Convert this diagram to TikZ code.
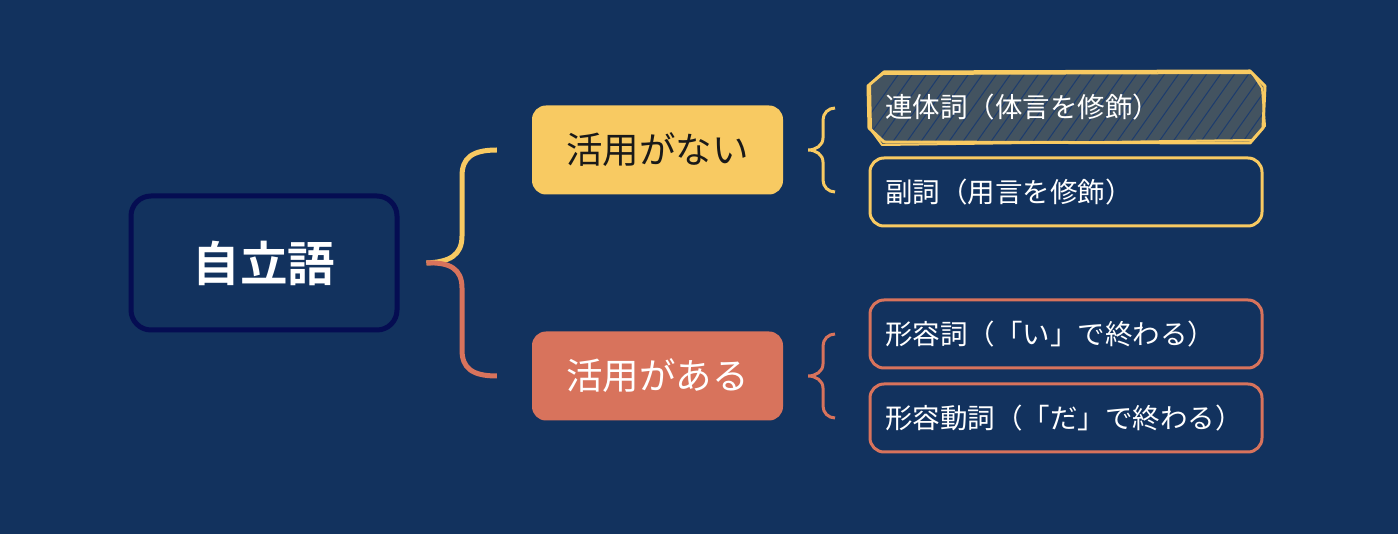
\documentclass[tikz,border=0pt]{standalone}
\usepackage{fontspec}
\newfontfamily\jp{Noto Sans CJK JP}
\newfontfamily\jpbold{Noto Sans CJK JP Bold}
\definecolor{bg}{HTML}{12325E}
\definecolor{rootline}{HTML}{050D52}
\definecolor{warm}{HTML}{F8CA62}
\definecolor{rust}{HTML}{D8735C}
\definecolor{slate}{HTML}{435360}
\definecolor{hatch}{HTML}{1D3C6E}
\tikzset{
  rootbox/.style={draw=rootline, line width=5pt, rounded corners=20pt, minimum width=266pt, minimum height=134pt, text=white, font=\jpbold\fontsize{47.5}{52}\selectfont},
  groupbox/.style={rounded corners=14pt, minimum width=251pt, minimum height=89pt, font=\jp\fontsize{36.5}{40}\selectfont},
  leafbox/.style={line width=3pt, rounded corners=14pt, minimum width=392pt, minimum height=68pt, text=white, text width=362pt, align=left, font=\jp\fontsize{27.5}{30}\selectfont},
  bigbrace/.style={line width=5pt},
  smallbrace/.style={line width=3pt},
}
\begin{document}
\begin{tikzpicture}[x=1pt,y=-1pt]
\fill[bg] (0,0) rectangle (1398,534);
\useasboundingbox (0,0) rectangle (1398,534);

% root
\node[rootbox] (root) at (264,263) {自立語};

% groups
\node[groupbox, fill=warm, text=black!90] (ga) at (657.5,150) {活用がない};
\node[groupbox, fill=rust, text=white] (gb) at (657.5,376) {活用がある};

% big brace from root to both groups
\coordinate (bm) at ([xshift=27pt]root.east);
\coordinate (ta) at ([xshift=-35pt]ga.west);
\coordinate (tb) at ([xshift=-35pt]gb.west);
\draw[bigbrace, warm] (bm) .. controls (450,262) and (462,255) .. (462,236)
  -- (462,176) .. controls (462,158) and (472,150) .. (ta);
\draw[bigbrace, rust] (bm) .. controls (450,262) and (462,269) .. (462,288)
  -- (462,350) .. controls (462,368) and (472,376) .. (tb);

% leaves
\begin{scope}
  \path[clip] (884,72) -- (1250,71) -- (1265,86) -- (1263,128) -- (1250,143) -- (884,142) -- (869,128) -- (868,86) -- cycle;
  \fill[slate] (860,60) rectangle (1280,150);
  \foreach \i in {0,...,30}
    \draw[hatch, line width=1pt] (845+\i*14,150) -- ++(60,-85);
\end{scope}
\draw[warm, line width=3pt, line join=round] (884,72) -- (1250,71) -- (1265,86) -- (1263,128) -- (1250,143) -- (884,142) -- (869,128) -- (868,86) -- cycle;
\draw[warm, line width=2pt, line join=round] (883,74) -- (1252,73) -- (1262,88) -- (1265,126) -- (1252,140) -- (882,145) -- (871,130) -- (870,84) -- cycle;
\node[leafbox] (la) at (1066,107.5) {連体詞（体言を修飾）};
\node[leafbox, draw=warm] (lb) at (1066,192) {副詞（用言を修飾）};
\node[leafbox, draw=rust] (lc) at (1066,334) {形容詞（「い」で終わる）};
\node[leafbox, draw=rust] (ld) at (1066,418) {形容動詞（「だ」で終わる）};

% small braces
\coordinate (sa) at ([xshift=25pt]ga.east);
\coordinate (sb) at ([xshift=25pt]gb.east);
\draw[smallbrace, warm] (835,108) to[out=180,in=90] (823,120) -- (823,138) to[out=-90,in=0] (sa)
  to[out=0,in=90] (823,162) -- (823,180) to[out=-90,in=180] (835,192);
\draw[smallbrace, rust] (835,334) to[out=180,in=90] (823,346) -- (823,364) to[out=-90,in=0] (sb)
  to[out=0,in=90] (823,388) -- (823,406) to[out=-90,in=180] (835,418);
\end{tikzpicture}
\end{document}
